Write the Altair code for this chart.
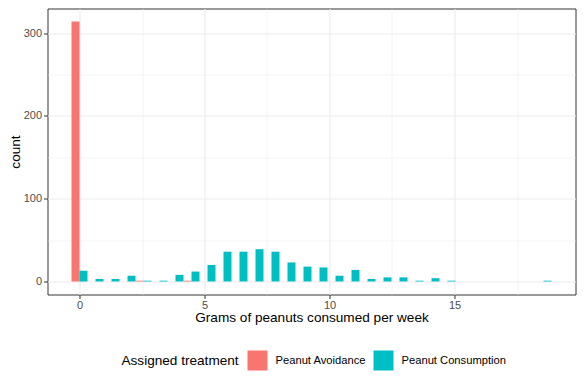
import altair as alt
import pandas as pd

# Histogram (30 bins, width 0.64 g, centred on multiples of 0.64)
bin_width = 0.64
bin_index = list(range(30))
treatments = ["Peanut Avoidance", "Peanut Consumption"]
avoid_counts = [314, 0, 0, 0, 1, 0, 0, 1] + [0] * 22
consume_counts = [13, 3, 3, 7, 1, 1, 8, 12, 20, 36,
                  36, 39, 36, 23, 18, 17, 7, 14, 3, 5,
                  5, 1, 4, 1, 0, 0, 0, 0, 0, 1]
colors = ["#F8766D", "#00BFC4"]

rows = []
for k in bin_index:
    c = k * bin_width
    if avoid_counts[k] > 0:
        rows.append({"treatment": treatments[0], "x0": c - bin_width / 2, "x1": c, "count": avoid_counts[k]})
    if consume_counts[k] > 0:
        rows.append({"treatment": treatments[1], "x0": c, "x1": c + bin_width / 2, "count": consume_counts[k]})
df = pd.DataFrame(rows)

# ggplot-style 5% expansion
xmin, xmax = -bin_width / 2, (bin_index[-1]) * bin_width + bin_width / 2
xpad = 0.05 * (xmax - xmin)
ymax = max(avoid_counts)
ypad = 0.05 * ymax

font = "Liberation Sans"

x_axis = alt.Axis(
    title="Grams of peanuts consumed per week",
    values=[0, 2.5, 5, 7.5, 10, 12.5, 15, 17.5],
    labelExpr="datum.value % 5 == 0 ? datum.label : ''",
    tickOpacity={"expr": "datum.value % 5 == 0 ? 1 : 0"},
    gridWidth={"expr": "datum.value % 5 == 0 ? 1.1 : 0.55"},
    gridColor="#EBEBEB",
    domain=False,
    tickColor="#333333",
    tickSize=4,
    labelColor="#4D4D4D",
    labelFontSize=11,
    labelPadding=0.5,
    titleFontSize=13.6,
    titleFontWeight="normal",
    titleColor="#000000",
    titlePadding=0,
)
y_axis = alt.Axis(
    title="count",
    values=[0, 50, 100, 150, 200, 250, 300],
    labelExpr="datum.value % 100 == 0 ? datum.label : ''",
    tickOpacity={"expr": "datum.value % 100 == 0 ? 1 : 0"},
    gridWidth={"expr": "datum.value % 100 == 0 ? 1.1 : 0.55"},
    gridColor="#EBEBEB",
    domain=False,
    tickColor="#333333",
    tickSize=4,
    labelColor="#4D4D4D",
    labelFontSize=11,
    labelPadding=2,
    titleFontSize=13.6,
    titleFontWeight="normal",
    titleColor="#000000",
    titlePadding=1,
)

chart = alt.Chart(df).mark_rect().encode(
    x=alt.X("x0:Q", scale=alt.Scale(domain=[xmin - xpad, xmax + xpad], nice=False, zero=False), axis=x_axis),
    x2="x1:Q",
    y=alt.Y("count:Q", scale=alt.Scale(domain=[-ypad, ymax + ypad], nice=False, zero=False), axis=y_axis),
    y2=alt.Y2(datum=0),
    color=alt.Color(
        "treatment:N",
        scale=alt.Scale(domain=treatments, range=colors),
        legend=alt.Legend(
            title="Assigned treatment",
            orient="none",
            legendX=74,
            legendY=342,
            direction="horizontal",
            titleOrient="left",
            titleFontSize=13.6,
            titleFontWeight="normal",
            titleColor="#000000",
            titlePadding=8,
            titleBaseline="middle",
            symbolType="square",
            symbolSize=400,
            symbolStrokeWidth=0,
            symbolOpacity=1,
            labelFontSize=11.2,
            labelColor="#000000",
            labelOffset=8,
            columnPadding=7,
        ),
    ),
).properties(
    width=528,
    height=286,
    autosize=alt.AutoSizeParams(type="none"),
    padding={"left": 39.5, "top": 0.5, "right": 1.5, "bottom": 80.5},
).configure(
    font=font,
    background="white",
).configure_view(
    stroke="#333333",
    strokeWidth=1,
)

chart.save("out.html", embed_options={"renderer": "svg", "actions": False})
